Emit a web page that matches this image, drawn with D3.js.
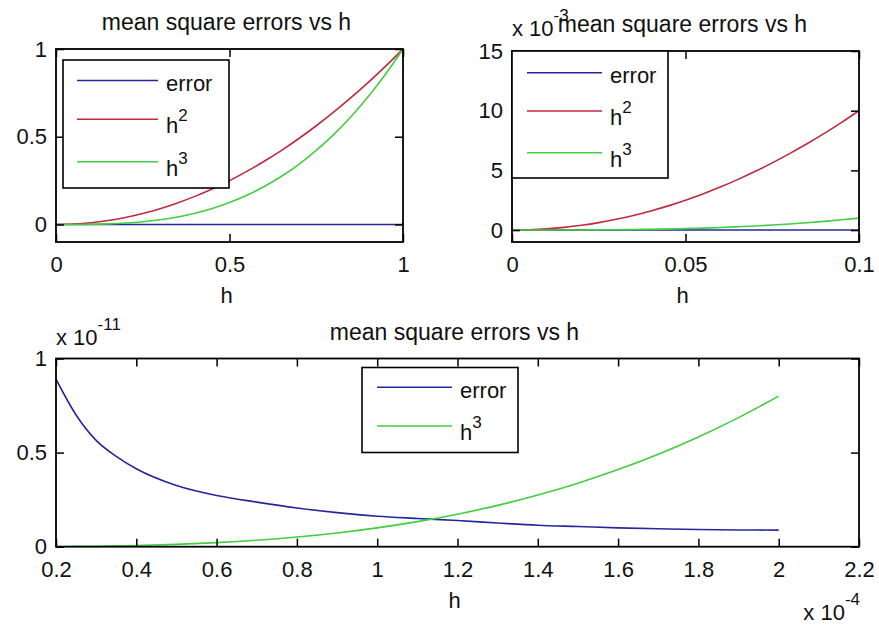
<!DOCTYPE html>
<html>
<head>
<meta charset="utf-8">
<script src="https://cdn.jsdelivr.net/npm/d3@7"></script>
<style>
  html, body { margin: 0; padding: 0; background: #fff; }
  svg { display: block; font-family: "Liberation Sans", Arial, sans-serif; }
</style>
</head>
<body>
<svg id="fig" width="879" height="627"></svg>
<script>
// ---- data -------------------------------------------------------------
// step sizes h and the measured mean square errors, with h^2 and h^3 for reference
const hWide   = [0, 0.05, 0.1, 0.15, 0.2, 0.25, 0.3, 0.35, 0.4, 0.45, 0.5, 0.55, 0.6, 0.65, 0.7, 0.75, 0.8, 0.85, 0.9, 0.95, 1];
const errWide = [0, 0, 0, 0, 0, 0, 0, 0, 0, 0, 0, 0, 0, 0, 0, 0, 0, 0, 0, 0, 0];
const h2Wide  = [0, 0.0025, 0.01, 0.0225, 0.04, 0.0625, 0.09, 0.1225, 0.16, 0.2025, 0.25, 0.3025, 0.36, 0.4225, 0.49, 0.5625, 0.64, 0.7225, 0.81, 0.9025, 1];
const h3Wide  = [0, 0.000125, 0.001, 0.003375, 0.008, 0.015625, 0.027, 0.042875, 0.064, 0.091125, 0.125, 0.166375, 0.216, 0.274625, 0.343, 0.421875, 0.512, 0.614125, 0.729, 0.857375, 1];

const hNarrow   = [0, 0.005, 0.01, 0.015, 0.02, 0.025, 0.03, 0.035, 0.04, 0.045, 0.05, 0.055, 0.06, 0.065, 0.07, 0.075, 0.08, 0.085, 0.09, 0.095, 0.1];
const errNarrow = [0, 0, 0, 0, 0, 0, 0, 0, 0, 0, 0, 0, 0, 0, 0, 0, 0, 0, 0, 0, 0];
const h2Narrow  = [0, 2.5e-5, 1e-4, 2.25e-4, 4e-4, 6.25e-4, 9e-4, 1.225e-3, 1.6e-3, 2.025e-3, 2.5e-3, 3.025e-3, 3.6e-3, 4.225e-3, 4.9e-3, 5.625e-3, 6.4e-3, 7.225e-3, 8.1e-3, 9.025e-3, 1e-2];
const h3Narrow  = [0, 1.25e-7, 1e-6, 3.375e-6, 8e-6, 1.5625e-5, 2.7e-5, 4.2875e-5, 6.4e-5, 9.1125e-5, 1.25e-4, 1.66375e-4, 2.16e-4, 2.74625e-4, 3.43e-4, 4.21875e-4, 5.12e-4, 6.14125e-4, 7.29e-4, 8.57375e-4, 1e-3];

const hSmall   = [2e-5, 2.5e-5, 3e-5, 3.5e-5, 4e-5, 5e-5, 6e-5, 7e-5, 8e-5, 9e-5, 1e-4, 1.1e-4, 1.2e-4, 1.3e-4, 1.4e-4, 1.5e-4, 1.6e-4, 1.7e-4, 1.8e-4, 1.9e-4, 2e-4];
const errSmall = [8.9e-12, 7.0e-12, 5.65e-12, 4.8e-12, 4.14e-12, 3.25e-12, 2.72e-12, 2.37e-12, 2.06e-12, 1.81e-12, 1.62e-12, 1.50e-12, 1.39e-12, 1.26e-12, 1.14e-12, 1.07e-12, 1.00e-12, 0.95e-12, 0.91e-12, 0.89e-12, 0.88e-12];
const h3Small  = [8e-15, 1.5625e-14, 2.7e-14, 4.2875e-14, 6.4e-14, 1.25e-13, 2.16e-13, 3.43e-13, 5.12e-13, 7.29e-13, 1e-12, 1.331e-12, 1.728e-12, 2.197e-12, 2.744e-12, 3.375e-12, 4.096e-12, 4.913e-12, 5.832e-12, 6.859e-12, 8e-12];

// ---- ticks ------------------------------------------------------------
const xTicksWide  = [0, 0.5, 1];
const xLabelsWide = ["0", "0.5", "1"];
const yTicksWide  = [0, 0.5, 1];
const yLabelsWide = ["0", "0.5", "1"];

const xTicksNarrow  = [0, 0.05, 0.1];
const xLabelsNarrow = ["0", "0.05", "0.1"];
const yTicksNarrow  = [0, 5e-3, 10e-3, 15e-3];
const yLabelsNarrow = ["0", "5", "10", "15"];

const xTicksSmall  = [2e-5, 4e-5, 6e-5, 8e-5, 1e-4, 1.2e-4, 1.4e-4, 1.6e-4, 1.8e-4, 2e-4, 2.2e-4];
const xLabelsSmall = ["0.2", "0.4", "0.6", "0.8", "1", "1.2", "1.4", "1.6", "1.8", "2", "2.2"];
const yTicksSmall  = [0, 0.5e-11, 1e-11];
const yLabelsSmall = ["0", "0.5", "1"];

const titleText  = "mean square errors vs h";
const xLabelText = "h";

const colors = { error: "#27279c", h2: "#c02a3c", h3: "#3fcf3f" };

// ---- panels -----------------------------------------------------------
const panels = [
  {
    box: { left: 56, right: 403, top: 49, bottom: 242 },
    xDomain: [0, 1], yDomain: [-0.1, 1],
    xTicks: xTicksWide, xLabels: xLabelsWide, yTicks: yTicksWide, yLabels: yLabelsWide,
    h: hWide,
    series: [
      { key: "error", label: "error", sup: null, values: errWide },
      { key: "h2", label: "h", sup: "2", values: h2Wide },
      { key: "h3", label: "h", sup: "3", values: h3Wide }
    ],
    legend: { x0: 63, x1: 229, y0: 60, y1: 188, lineX0: 77, lineX1: 158, textX: 166, rows: [80.5, 119.3, 161.7] },
    yExp: null, xExp: null
  },
  {
    box: { left: 512, right: 859, top: 51, bottom: 242 },
    xDomain: [0, 0.1], yDomain: [-1e-3, 15e-3],
    xTicks: xTicksNarrow, xLabels: xLabelsNarrow, yTicks: yTicksNarrow, yLabels: yLabelsNarrow,
    h: hNarrow,
    series: [
      { key: "error", label: "error", sup: null, values: errNarrow },
      { key: "h2", label: "h", sup: "2", values: h2Narrow },
      { key: "h3", label: "h", sup: "3", values: h3Narrow }
    ],
    legend: { x0: 512, x1: 668, y0: 51, y1: 178, lineX0: 527, lineX1: 602, textX: 610, rows: [72.7, 111, 152.7] },
    yExp: { x: 512, y: 36, text: "x 10", sup: "-3", anchor: "start" },
    xExp: null
  },
  {
    box: { left: 56, right: 859, top: 358.5, bottom: 546.7 },
    xDomain: [2e-5, 2.2e-4], yDomain: [0, 1e-11],
    xTicks: xTicksSmall, xLabels: xLabelsSmall, yTicks: yTicksSmall, yLabels: yLabelsSmall,
    h: hSmall,
    series: [
      { key: "error", label: "error", sup: null, values: errSmall },
      { key: "h3", label: "h", sup: "3", values: h3Small }
    ],
    legend: { x0: 362, x1: 518, y0: 367.5, y1: 452.5, lineX0: 377, lineX1: 452, textX: 460, rows: [387.3, 426] },
    yExp: { x: 56, y: 345, text: "x 10", sup: "-11", anchor: "start" },
    xExp: { x: 860, y: 620, text: "x 10", sup: "-4", anchor: "end" }
  }
];

const svg = d3.select("#fig");
const tickFont = 22, supFont = 17, titleFont = 23;

function expLabel(g, e) {
  const t = g.append("text")
    .attr("x", e.x).attr("y", e.y)
    .attr("font-size", tickFont).attr("fill", "#111")
    .attr("text-anchor", e.anchor);
  t.append("tspan").text(e.text);
  t.append("tspan").attr("dy", -15).attr("font-size", supFont).text(e.sup);
}

panels.forEach((p, i) => {
  const b = p.box;
  const g = svg.append("g");
  const x = d3.scaleLinear().domain(p.xDomain).range([b.left, b.right]);
  const y = d3.scaleLinear().domain(p.yDomain).range([b.bottom, b.top]);

  const clipId = "clip" + i;
  svg.append("clipPath").attr("id", clipId)
    .append("rect").attr("x", b.left).attr("y", b.top)
    .attr("width", b.right - b.left).attr("height", b.bottom - b.top);

  // data lines, in plotting order
  const line = d3.line().x(d => x(d[0])).y(d => y(d[1])).curve(d3.curveMonotoneX);
  p.series.forEach(s => {
    g.append("path")
      .attr("clip-path", `url(#${clipId})`)
      .attr("d", line(p.h.map((h, k) => [h, s.values[k]])))
      .attr("fill", "none")
      .attr("stroke", colors[s.key])
      .attr("stroke-width", 1.6);
  });

  // axes with inward ticks on all four sides
  const fmtX = d => p.xLabels[p.xTicks.indexOf(d)];
  const fmtY = d => p.yLabels[p.yTicks.indexOf(d)];
  const styleAxis = sel => {
    sel.select(".domain").remove();
    sel.selectAll(".tick line").attr("stroke", "#000").attr("stroke-width", 1.5);
    sel.selectAll(".tick text").attr("fill", "#111").attr("font-size", tickFont)
      .attr("font-family", "Liberation Sans, Arial, sans-serif");
  };
  g.append("g").attr("transform", `translate(0,${b.bottom})`)
    .call(d3.axisBottom(x).tickValues(p.xTicks).tickFormat(fmtX).tickSize(-8).tickPadding(14.5))
    .call(styleAxis);
  g.append("g").attr("transform", `translate(0,${b.top})`)
    .call(d3.axisTop(x).tickValues(p.xTicks).tickFormat("").tickSize(-8))
    .call(styleAxis);
  g.append("g").attr("transform", `translate(${b.left},0)`)
    .call(d3.axisLeft(y).tickValues(p.yTicks).tickFormat(fmtY).tickSize(-8).tickPadding(9))
    .call(styleAxis);
  g.append("g").attr("transform", `translate(${b.right},0)`)
    .call(d3.axisRight(y).tickValues(p.yTicks).tickFormat("").tickSize(-8))
    .call(styleAxis);

  // axes box
  g.append("rect")
    .attr("x", b.left).attr("y", b.top)
    .attr("width", b.right - b.left).attr("height", b.bottom - b.top)
    .attr("fill", "none").attr("stroke", "#000").attr("stroke-width", 1.8);

  // exponent multipliers
  if (p.yExp) expLabel(g, p.yExp);
  if (p.xExp) expLabel(g, p.xExp);

  // title and x label
  const cx = (b.left + b.right) / 2;
  g.append("text").attr("x", cx - 3).attr("y", b.top - 19)
    .attr("text-anchor", "middle").attr("font-size", titleFont).attr("fill", "#111")
    .text(titleText);
  g.append("text").attr("x", cx - 3).attr("y", b.bottom + 61)
    .attr("text-anchor", "middle").attr("font-size", tickFont).attr("fill", "#111")
    .text(xLabelText);

  // legend
  const L = p.legend;
  g.append("rect")
    .attr("x", L.x0).attr("y", L.y0)
    .attr("width", L.x1 - L.x0).attr("height", L.y1 - L.y0)
    .attr("fill", "#fff").attr("stroke", "#000").attr("stroke-width", 1.6);
  p.series.forEach((s, k) => {
    const ry = L.rows[k];
    g.append("line")
      .attr("x1", L.lineX0).attr("x2", L.lineX1).attr("y1", ry).attr("y2", ry)
      .attr("stroke", colors[s.key]).attr("stroke-width", 1.6);
    const t = g.append("text")
      .attr("x", L.textX).attr("y", ry + (s.sup ? 14 : 10.5))
      .attr("font-size", tickFont).attr("fill", "#111");
    t.append("tspan").text(s.label);
    if (s.sup) t.append("tspan").attr("dy", -12).attr("font-size", supFont).text(s.sup);
  });
});
</script>
</body>
</html>
